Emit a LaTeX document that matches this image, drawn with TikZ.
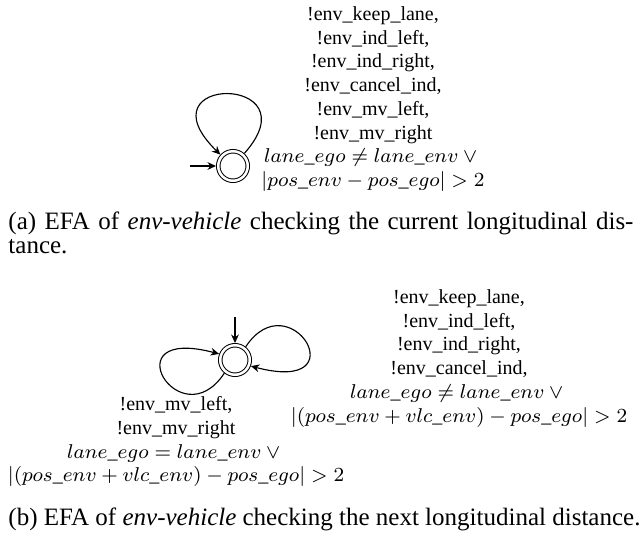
\documentclass[tikz,border=0pt]{standalone}
\usepackage{fontspec}
\setmainfont{Liberation Serif}
\usetikzlibrary{arrows.meta,calc}
\begin{document}
\begin{tikzpicture}[x=0.4pt,y=-0.4pt,
  state/.style={circle,draw,double,double distance=1pt,line width=0.4pt,minimum size=11.8pt,inner sep=0pt,outer sep=0.9pt},
  edgearrow/.style={-{Stealth[length=3.4pt,width=3.1pt]},line width=0.45pt},
  lbl/.style={align=center,font=\footnotesize,inner sep=0pt},
  captext/.style={font=\fontsize{10pt}{9.6pt}\selectfont,inner sep=0pt}]
\useasboundingbox (0,0) rectangle (641,548);

% ---------- (a) ----------
\node[state] (qa) at (233,166) {};
\coordinate (ainit) at (190,166);
\draw[edgearrow] (ainit) -- (qa);
\draw[edgearrow] (qa.48) .. controls ($(qa)+(82,-92)$) and ($(qa)+(-95,-92)$) .. (qa.138);
\node[lbl,anchor=north] (la) at (373,6) {!env\_keep\_lane,\\ !env\_ind\_left,\\ !env\_ind\_right,\\ !env\_cancel\_ind,\\ !env\_mv\_left,\\ !env\_mv\_right\\ $lane\_ego \neq lane\_env \vee{}$\\ $|pos\_env - pos\_ego| > 2$};
\node[captext,anchor=north west,text width=250pt,align=justify] (capa) at (8,211) {(a) EFA of \emph{env-vehicle} checking the current longitudinal dis-\linebreak tance.};

% ---------- (b) ----------
\node[state] (qb) at (235,360) {};
\coordinate (binit) at (235,317);
\draw[edgearrow] (binit) -- (qb);
\draw[edgearrow] (qb.51) .. controls ($(qb)+(55,-80)$) and ($(qb)+(125,35)$) .. (qb.-21);
\draw[edgearrow] (qb.-129) .. controls ($(qb)+(-55,80)$) and ($(qb)+(-125,-35)$) .. (qb.159);
\node[lbl,anchor=north] (lbr) at (459,289) {!env\_keep\_lane,\\ !env\_ind\_left,\\ !env\_ind\_right,\\ !env\_cancel\_ind,\\ $lane\_ego \neq lane\_env \vee{}$\\ $|(pos\_env + vlc\_env) - pos\_ego| > 2$};
\node[lbl,anchor=north] (lbleft) at (176,396) {!env\_mv\_left,\\ !env\_mv\_right\\ $lane\_ego = lane\_env \vee{}$\\ $|(pos\_env + vlc\_env) - pos\_ego| > 2$};
\node[captext,anchor=base west] (capb) at (8,525) {(b) EFA of \emph{env-vehicle} checking the next longitudinal distance.};
\end{tikzpicture}
\end{document}
